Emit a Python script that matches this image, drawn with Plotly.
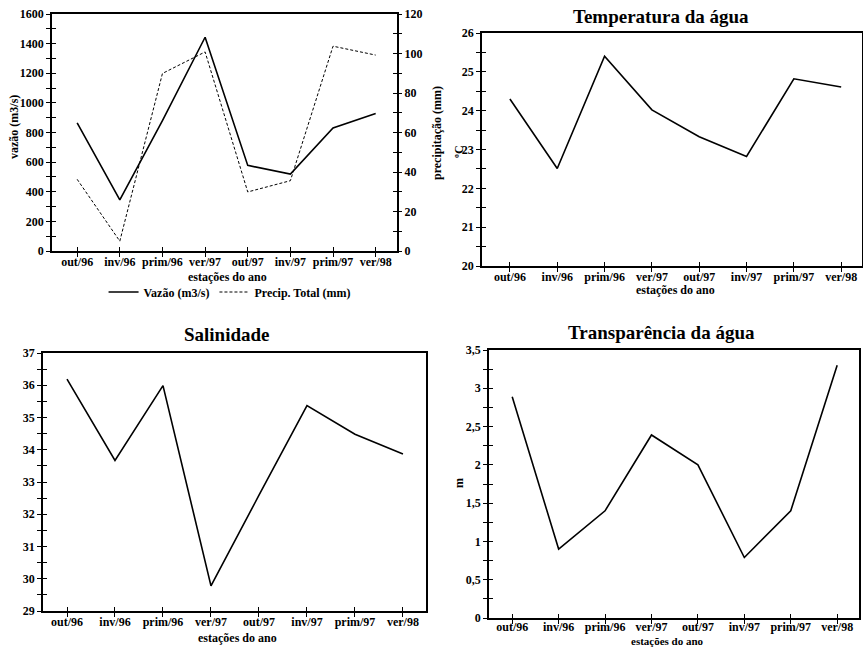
import plotly.graph_objects as go

estacoes = ["out/96", "inv/96", "prim/96", "ver/97", "out/97", "inv/97", "prim/97", "ver/98"]
vazao = [865, 345, 880, 1443, 578, 519, 830, 929]
precip = [36.3, 5.0, 89.9, 100.8, 29.9, 35.6, 103.7, 99.2]
temperatura = [24.30, 22.51, 25.40, 24.02, 23.33, 22.82, 24.82, 24.61]
salinidade = [36.19, 33.67, 35.99, 29.78, 32.59, 35.37, 34.48, 33.87]
transparencia = [2.89, 0.90, 1.40, 2.39, 2.00, 0.79, 1.40, 3.30]
transp_ticks = [0, 0.5, 1, 1.5, 2, 2.5, 3, 3.5]
transp_ticktext = ["0", "0,5", "1", "1,5", "2", "2,5", "3", "3,5"]

W, H = 863, 647
FONT = "Liberation Serif"
tickfont = dict(family=FONT, size=12, color="black", weight="bold")

def px_x(a, b):
    return [a / W, b / W]

def px_y(top, bottom):
    return [1 - bottom / H, 1 - top / H]

fig = go.Figure()

line = dict(color="black", width=1.6)
fig.add_trace(go.Scatter(x=estacoes, y=vazao, mode="lines", line=line,
                         name="Vazão (m3/s)", xaxis="x", yaxis="y"))
fig.add_trace(go.Scatter(x=estacoes, y=precip, mode="lines",
                         line=dict(color="black", width=1, dash="3px,2px"),
                         name="Precip. Total (mm)", xaxis="x", yaxis="y2"))
fig.add_trace(go.Scatter(x=estacoes, y=temperatura, mode="lines", line=line,
                         showlegend=False, xaxis="x2", yaxis="y3"))
fig.add_trace(go.Scatter(x=estacoes, y=salinidade, mode="lines", line=line,
                         showlegend=False, xaxis="x3", yaxis="y4"))
fig.add_trace(go.Scatter(x=estacoes, y=transparencia, mode="lines", line=line,
                         showlegend=False, xaxis="x4", yaxis="y5"))

# invisible helper traces so the tick-cross overlay axes get drawn
for xa, ya in [("x5", "y6"), ("x5", "y7"), ("x6", "y8"), ("x7", "y9"), ("x8", "y10")]:
    fig.add_trace(go.Scatter(x=[None], y=[None], mode="markers", showlegend=False,
                             hoverinfo="skip", xaxis=xa, yaxis=ya))

TL = 4  # tick half-length (ticks cross the axis)

def xax(domain, rng, anchor, standoff=-5):
    return dict(domain=domain, range=rng, anchor=anchor, type="category",
                showline=True, linecolor="black", linewidth=1.5, mirror=True,
                ticks="outside", ticklen=TL, tickwidth=1.2, tickcolor="black",
                ticklabelstandoff=standoff,
                showgrid=False, zeroline=False, tickfont=tickfont, automargin=False,
                categoryorder="array", categoryarray=estacoes)

def xax_cross(over, anchor, rng):
    return dict(overlaying=over, anchor=anchor, range=rng, type="linear",
                tickvals=list(range(len(estacoes))), showticklabels=False,
                ticks="inside", ticklen=TL, tickwidth=1.2, tickcolor="black",
                showline=False, showgrid=False, zeroline=False, automargin=False)

def yax(domain, rng, dtick, minor, anchor, **kw):
    d = dict(domain=domain, range=rng, anchor=anchor, dtick=dtick,
             showline=True, linecolor="black", linewidth=1.5, mirror=True,
             ticks="outside", ticklen=TL, tickwidth=1.2, tickcolor="black",
             minor=dict(dtick=minor, ticks="outside", ticklen=TL, tickwidth=1, tickcolor="black"),
             showgrid=False, zeroline=False, tickfont=tickfont, automargin=False)
    d.update(kw)
    return d

def yax_cross(over, anchor, rng, dtick, minor, side="left", **kw):
    d = dict(overlaying=over, anchor=anchor, range=rng, dtick=dtick, side=side,
             showticklabels=False, ticks="inside", ticklen=TL, tickwidth=1.2, tickcolor="black",
             minor=dict(dtick=minor, ticks="inside", ticklen=TL, tickwidth=1, tickcolor="black"),
             showline=False, showgrid=False, zeroline=False, automargin=False)
    d.update(kw)
    return d

d1x, d1y = px_x(52, 397), px_y(14, 251)
d2x, d2y = px_x(482, 862), px_y(33, 266)
d3x, d3y = px_x(43, 426), px_y(353, 611)
d4x, d4y = px_x(489, 859), px_y(350, 618)

r1x, r2x, r3x, r4x = [-0.59, 7.5], [-0.59, 7.44], [-0.5, 7.48], [-0.5, 7.47]

fig.update_layout(
    width=W, height=H, margin=dict(l=0, r=0, t=0, b=0, autoexpand=False),
    paper_bgcolor="white", plot_bgcolor="white",
    font=dict(family=FONT, color="black"),
    xaxis=xax(d1x, r1x, "y"),
    yaxis=yax(d1y, [0, 1600], 200, 100, "x", tick0=0),
    yaxis2=dict(overlaying="y", side="right", anchor="x", range=[0, 120], dtick=20,
                showline=False, ticks="outside", ticklen=TL, tickwidth=1.2, tickcolor="black",
                minor=dict(dtick=10, ticks="outside", ticklen=TL, tickwidth=1, tickcolor="black"),
                showgrid=False, zeroline=False, tickfont=tickfont, automargin=False),
    xaxis2=xax(d2x, r2x, "y3"),
    yaxis3=yax(d2y, [20, 26], 1, 0.5, "x2"),
    xaxis3=xax(d3x, r3x, "y4"),
    yaxis4=yax(d3y, [29, 37], 1, 0.5, "x3"),
    xaxis4=xax(d4x, r4x, "y5", standoff=-7),
    yaxis5=yax(d4y, [0, 3.5], None, 0.25, "x4", tickvals=transp_ticks, ticktext=transp_ticktext),
    # inside halves of the crossing tick marks
    xaxis5=xax_cross("x", "y", r1x),
    xaxis6=xax_cross("x2", "y3", r2x),
    xaxis7=xax_cross("x3", "y4", r3x),
    xaxis8=xax_cross("x4", "y5", r4x),
    yaxis6=yax_cross("y", "x", [0, 1600], 200, 100),
    yaxis7=yax_cross("y", "x", [0, 120], 20, 10, side="right"),
    yaxis8=yax_cross("y3", "x2", [20, 26], 1, 0.5),
    yaxis9=yax_cross("y4", "x3", [29, 37], 1, 0.5),
    yaxis10=yax_cross("y5", "x4", [0, 3.5], 0.5, 0.25),
    legend=dict(orientation="h", x=0.12, y=1 - 292 / H, yanchor="middle", xanchor="left",
                font=dict(family=FONT, size=12, color="black", weight="bold"),
                bgcolor="rgba(0,0,0,0)", itemwidth=30),
)

def ann(text, x, y, size=12, angle=0):
    fig.add_annotation(text=text, x=x / W, y=1 - y / H, xref="paper", yref="paper",
                       showarrow=False, textangle=angle, xanchor="center", yanchor="middle",
                       font=dict(family=FONT, size=size, color="black"))

ann("<b>Temperatura da água</b>", 661, 16, 19)
ann("<b>Salinidade</b>", 227, 334, 19)
ann("<b>Transparência da água</b>", 661, 332, 19)

ann("<b>vazão (m3/s)</b>", 14, 127, 12, -90)
ann("<b>precipitação (mm)</b>", 437, 133, 12, -90)
ann("<b>ºC</b>", 459, 152, 12, -90)
ann("<b>m</b>", 459, 483, 12, -90)

ann("<b>estações do ano</b>", 227, 277, 12)
ann("<b>estações do ano</b>", 675, 290, 12)
ann("<b>estações do ano</b>", 237, 638, 12)
ann("<b>estações do ano</b>", 667, 641, 11)

fig.write_html("out.html", config={"displayModeBar": False},
               post_script="document.body.style.margin='0';")
